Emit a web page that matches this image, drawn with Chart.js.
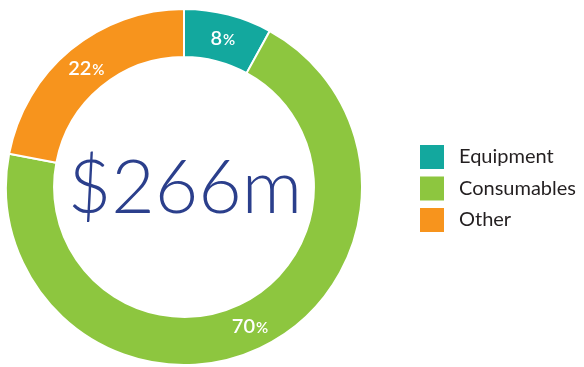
<!DOCTYPE html>
<html>
<head>
<meta charset="utf-8">
<script src="https://cdn.jsdelivr.net/npm/chart.js@4.4.1/dist/chart.umd.min.js"></script>
<style>
  html, body { margin: 0; padding: 0; background: #fff; }
  #wrap { position: relative; width: 584px; height: 367px; }
</style>
</head>
<body>
<div id="wrap"><canvas id="spendChart"></canvas></div>
<script>
// Data untuk diagram
const categories = ['Equipment', 'Consumables', 'Other'];
const shares = [8, 70, 22];
const totalLabel = '$266m';

const colours = ['#13a89e', '#8dc63f', '#f7941d'];

// label persen di tengah tiap irisan + teks total di tengah
const donutText = {
  id: 'donutText',
  afterDatasetsDraw(chart) {
    const ctx = chart.ctx;
    const meta = chart.getDatasetMeta(0);
    ctx.save();
    meta.data.forEach((arc, i) => {
      const p = arc.tooltipPosition();
      const num = String(shares[i]);
      ctx.font = '600 20px Lato';
      const w1 = ctx.measureText(num).width;
      ctx.font = '600 15px Lato';
      const w2 = ctx.measureText('%').width;
      const x0 = p.x - (w1 + w2) / 2;
      ctx.fillStyle = '#ffffff';
      ctx.textBaseline = 'alphabetic';
      ctx.textAlign = 'left';
      ctx.font = '600 20px Lato';
      ctx.fillText(num, x0, p.y + 7);
      ctx.font = '600 15px Lato';
      ctx.fillText('%', x0 + w1 + 1, p.y + 7);
    });
    const c = meta.data[0];
    ctx.font = '300 75px Lato';
    ctx.fillStyle = '#2b3f8c';
    ctx.textAlign = 'center';
    ctx.fillText(totalLabel, c.x + 1, c.y + 26);

    // legend
    ctx.textAlign = 'left';
    ctx.textBaseline = 'middle';
    ctx.font = '20px Lato';
    categories.forEach((name, i) => {
      const y = 145 + i * 31.5;
      ctx.fillStyle = colours[i];
      ctx.fillRect(420, y, 24, 24);
      ctx.fillStyle = '#231f20';
      ctx.fillText(name, 459, y + 12);
    });
    ctx.restore();
  }
};

const ctx = document.getElementById('spendChart').getContext('2d');
const spendChart = new Chart(ctx, {
  type: 'doughnut',
  data: {
    labels: categories,
    datasets: [{
      data: shares,
      backgroundColor: colours,
      borderColor: '#ffffff',
      borderWidth: 2,
      cutout: '73%'
    }]
  },
  options: {
    responsive: true,
    maintainAspectRatio: false,
    animation: false,
    layout: { padding: { left: 5, right: 221, top: 8, bottom: 1 } },
    plugins: {
      legend: { display: false },
      tooltip: { enabled: false }
    }
  },
  plugins: [donutText]
});
</script>
</body>
</html>
